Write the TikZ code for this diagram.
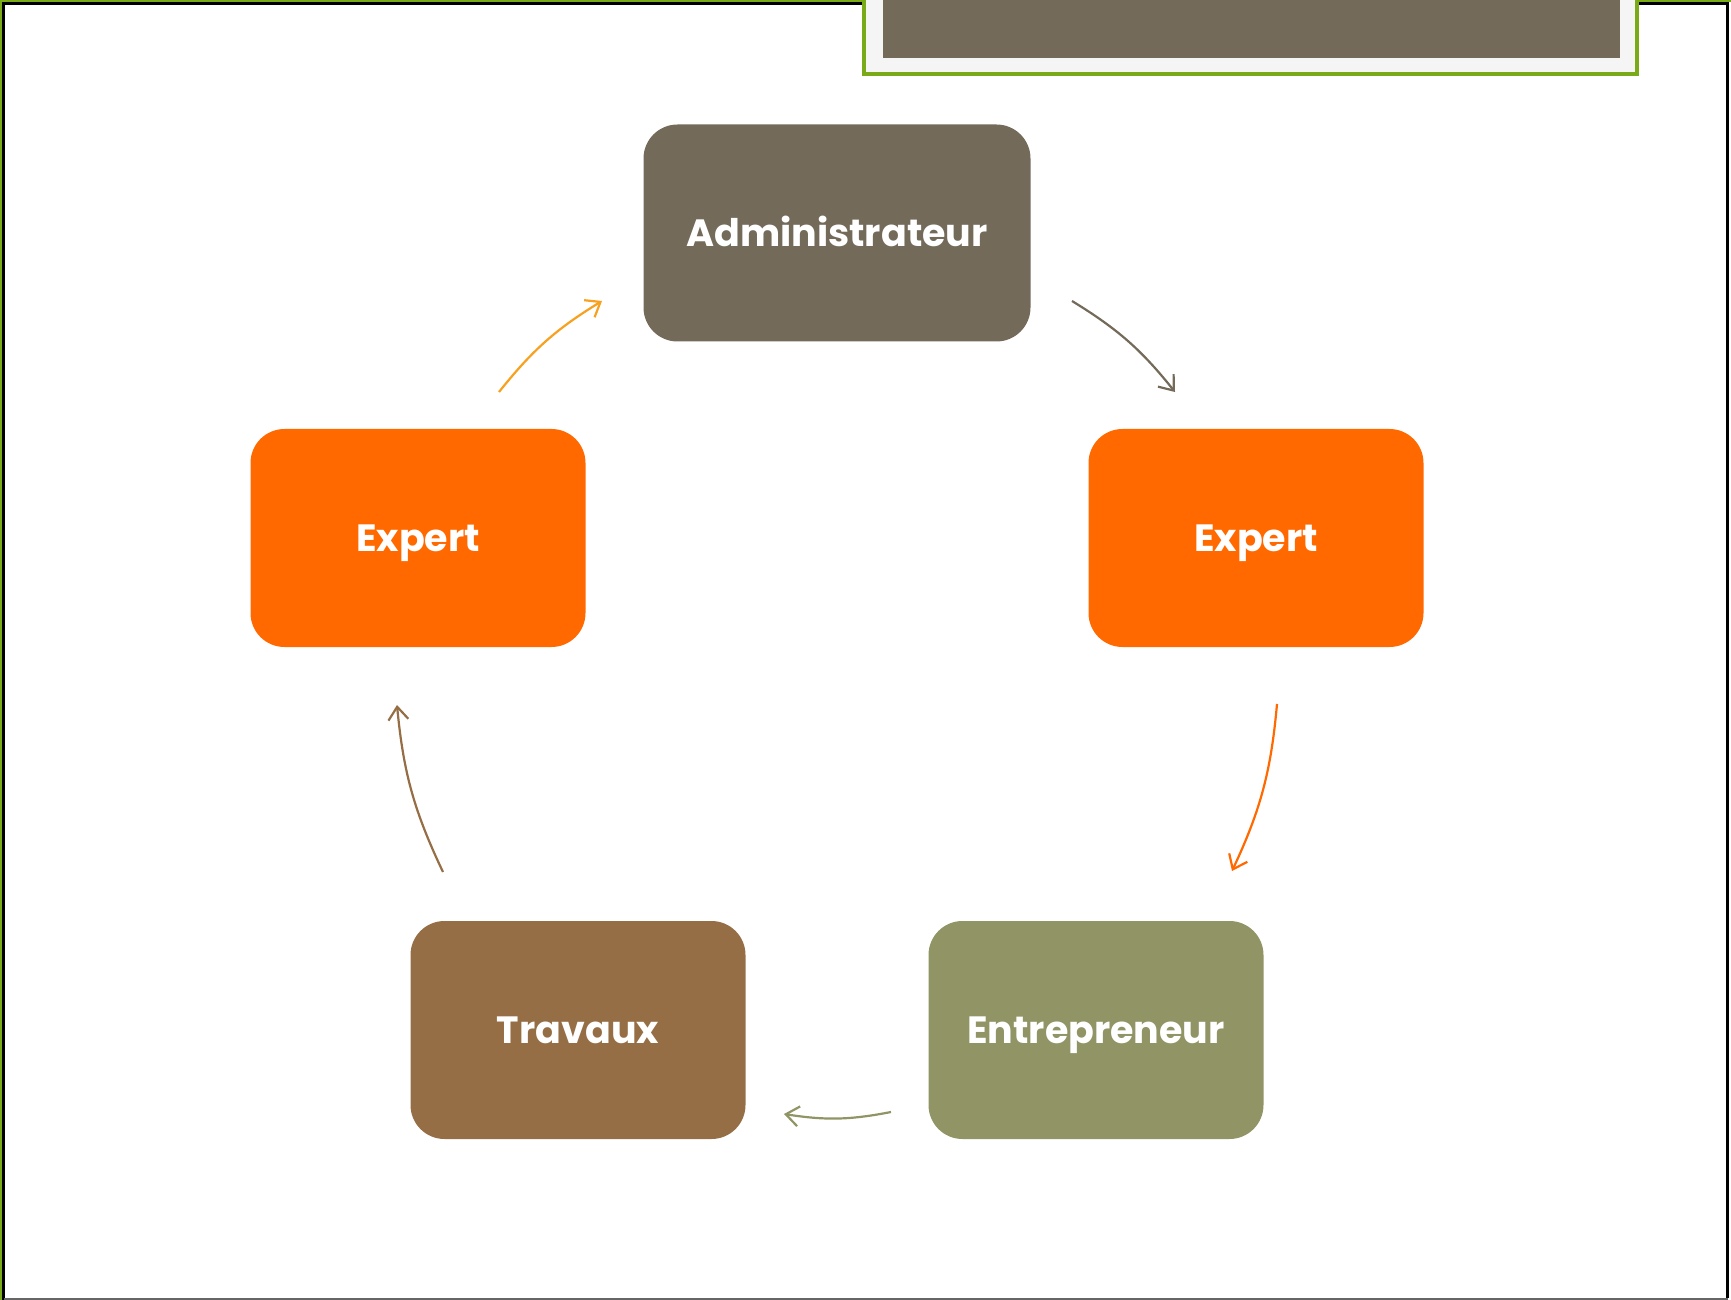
\documentclass[tikz,border=0pt]{standalone}
\usepackage{fontspec}
\setmainfont{Poppins}
\usetikzlibrary{arrows.meta}
\definecolor{taupe}{RGB}{115,106,90}
\definecolor{orangeA}{RGB}{255,105,0}
\definecolor{brownA}{RGB}{150,110,70}
\definecolor{oliveA}{RGB}{145,148,101}
\definecolor{amberA}{RGB}{248,160,32}
\definecolor{frameG}{RGB}{122,170,24}
\begin{document}
\begin{tikzpicture}[x=0.5pt,y=-0.5pt]
    \tikzstyle{box}=[rounded corners=17pt, minimum width=167.5pt, minimum height=109pt, text=white, font=\fontsize{19}{22}\selectfont\bfseries, inner sep=0pt, text height=13.3pt, text depth=0pt]
    \tikzstyle{link}=[line width=1.1pt, -{Straight Barb[length=6.5pt,width=10pt]}, bend left=10]
    \useasboundingbox (0,0) rectangle (1731,1300);
    % page frame
    \draw[frameG, line width=1pt] (1,1300) -- (1,1) -- (1731,1);
    \draw[black, line width=1.3pt] (3.5,1300) -- (3.5,3.5) -- (1727.5,3.5) -- (1727.5,1297.5);
    \draw[black!60, line width=1pt] (3.5,1298.5) -- (1727.5,1298.5);
    % title bar
    \filldraw[fill=black!4, draw=frameG, line width=1.6pt] (864,-10) rectangle (1637,74);
    \fill[taupe] (883,-10) rectangle (1620,58);
    % boxes
    \node[box, fill=taupe, minimum width=193.5pt, minimum height=108.5pt] (adm) at (837,233) {Administrateur};
    \node[box, fill=orangeA] (expR) at (1256,538) {Expert};
    \node[box, fill=orangeA] (expL) at (418,538) {Expert};
    \node[box, fill=oliveA] (ent) at (1096,1030) {Entrepreneur};
    \node[box, fill=brownA] (trav) at (578,1030) {Travaux};
    % arrow ends
    \coordinate (a1) at (499,392);  \coordinate (a2) at (602,301);
    \coordinate (b1) at (1072,301); \coordinate (b2) at (1175,392);
    \coordinate (c1) at (1277,704); \coordinate (c2) at (1232,871);
    \coordinate (d1) at (891,1112); \coordinate (d2) at (784,1114);
    \coordinate (e1) at (443,872);  \coordinate (e2) at (397,705);
    \draw[link, amberA] (a1) to (a2);
    \draw[link, taupe] (b1) to (b2);
    \draw[link, orangeA] (c1) to (c2);
    \draw[link, oliveA] (d1) to (d2);
    \draw[link, brownA] (e1) to (e2);
\end{tikzpicture}
\end{document}
